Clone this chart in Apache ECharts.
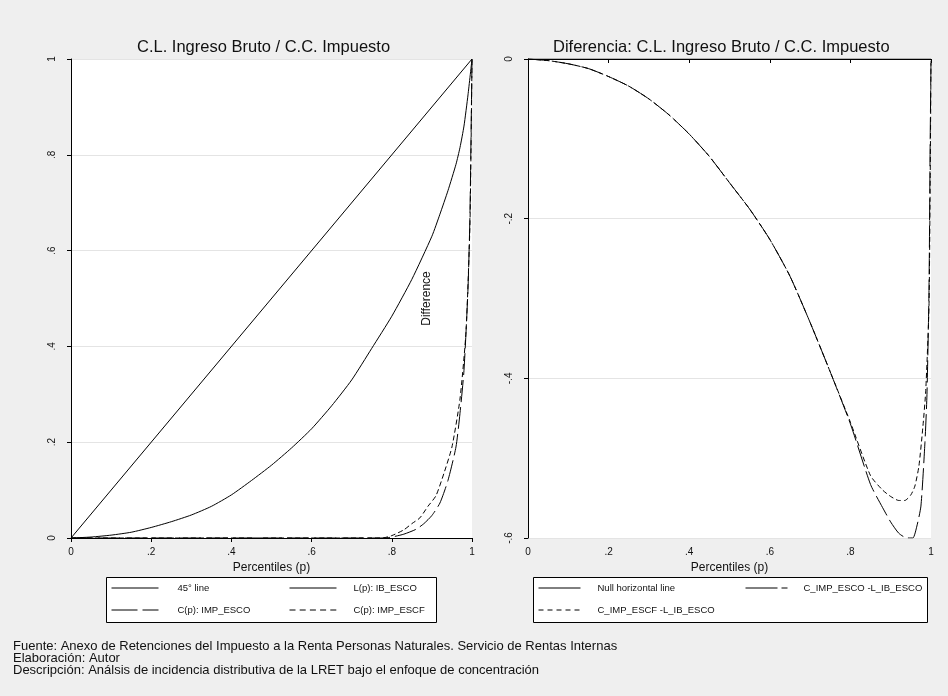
<!DOCTYPE html>
<html>
<head>
<meta charset="utf-8">
<script src="https://cdn.jsdelivr.net/npm/echarts@6/dist/echarts.min.js"></script>
<style>
html,body{margin:0;padding:0;background:#efefef;}
#chart{width:948px;height:696px;}
</style>
</head>
<body>
<div id="chart"></div>
<script>
// ---------- DATA ----------
var titleLeft = 'C.L. Ingreso Bruto / C.C. Impuesto';
var titleRight = 'Diferencia: C.L. Ingreso Bruto / C.C. Impuesto';
var xAxisName = 'Percentiles (p)';
var xTicks = [0, 0.2, 0.4, 0.6, 0.8, 1];
var yTicksLeft = [0, 0.2, 0.4, 0.6, 0.8, 1];
var yTicksRight = [-0.6, -0.4, -0.2, 0];

var line45P = [0, 1];
var line45V = [0, 1];

var lorenzP = [0, 0.05, 0.1, 0.15, 0.2, 0.25, 0.3, 0.35, 0.4, 0.45, 0.5, 0.55, 0.6, 0.65, 0.7, 0.75, 0.8, 0.85, 0.9, 0.92, 0.94, 0.96, 0.97, 0.98, 0.99, 1];
var lorenzIB = [0, 0.002, 0.006, 0.012, 0.022, 0.034, 0.048, 0.066, 0.09, 0.12, 0.152, 0.188, 0.228, 0.276, 0.330, 0.396, 0.463, 0.540, 0.630, 0.676, 0.725, 0.780, 0.815, 0.860, 0.925, 1];

var concEscoP = [0, 0.78, 0.8, 0.83, 0.86, 0.88, 0.9, 0.92, 0.94, 0.96, 0.97, 0.98, 0.99, 0.995, 1];
var concEsco  = [0, 0, 0.002, 0.008, 0.018, 0.03, 0.047, 0.073, 0.12, 0.19, 0.26, 0.35, 0.52, 0.68, 1];

var concEscfP = [0, 0.776, 0.8, 0.83, 0.85, 0.87, 0.89, 0.91, 0.93, 0.95, 0.97, 0.985, 0.995, 1];
var concEscf  = [0, 0, 0.005, 0.017, 0.03, 0.042, 0.066, 0.088, 0.135, 0.19, 0.29, 0.43, 0.66, 1];

var nullP = [0, 1];
var nullV = [0, 0];

var diffEscoP = [0, 0.05, 0.1, 0.15, 0.2, 0.25, 0.3, 0.35, 0.4, 0.45, 0.5, 0.55, 0.6, 0.65, 0.7, 0.75, 0.8, 0.85, 0.88, 0.9, 0.92, 0.94, 0.955, 0.965, 0.975, 0.985, 0.99, 0.995, 0.998, 1];
var diffEsco  = [0, -0.002, -0.006, -0.012, -0.022, -0.034, -0.05, -0.07, -0.094, -0.122, -0.155, -0.188, -0.226, -0.272, -0.33, -0.392, -0.457, -0.533, -0.562, -0.58, -0.594, -0.6, -0.6, -0.585, -0.56, -0.48, -0.42, -0.29, -0.1, 0];

var diffEscfP = [0, 0.05, 0.1, 0.15, 0.2, 0.25, 0.3, 0.35, 0.4, 0.45, 0.5, 0.55, 0.6, 0.65, 0.7, 0.75, 0.8, 0.85, 0.88, 0.9, 0.92, 0.935, 0.95, 0.96, 0.97, 0.98, 0.987, 0.995, 0.998, 1];
var diffEscf  = [0, -0.002, -0.006, -0.012, -0.022, -0.034, -0.05, -0.07, -0.094, -0.122, -0.155, -0.188, -0.226, -0.272, -0.33, -0.392, -0.455, -0.522, -0.54, -0.548, -0.553, -0.553, -0.546, -0.535, -0.51, -0.46, -0.415, -0.31, -0.15, 0];

var footerLines = [
  'Fuente: Anexo de Retenciones del Impuesto a la Renta Personas Naturales. Servicio de Rentas Internas',
  'Elaboración: Autor',
  'Descripción: Análsis de incidencia distributiva de la LRET bajo el enfoque de concentración'
];
var annotation = 'Difference';

// ---------- BUILD ----------
function zip(a, b) { return a.map(function (v, i) { return [v, b[i]]; }); }
function fmt(v) {
  var r = Math.round(v * 10) / 10;
  if (r === 0) return '0';
  if (r === 1) return '1';
  return String(r).replace('0.', '.');
}
var FONT = 'Liberation Sans, Arial, sans-serif';
var BLACK = '#000';

function xAx(gi) {
  return {
    type: 'value', gridIndex: gi, min: 0, max: 1, interval: 0.2,
    name: xAxisName, nameLocation: 'middle', nameGap: 18,
    nameTextStyle: { fontFamily: FONT, fontSize: 12, color: '#111' },
    axisLine: { show: true, lineStyle: { color: BLACK, width: 1 } },
    axisTick: { show: true, inside: false, length: 4, lineStyle: { color: BLACK } },
    axisLabel: { formatter: fmt, fontFamily: FONT, fontSize: 10, color: '#111', margin: 9 },
    splitLine: { show: false }
  };
}
function yAx(gi, mn, mx) {
  return {
    type: 'value', gridIndex: gi, min: mn, max: mx, interval: 0.2,
    axisLine: { show: true, lineStyle: { color: BLACK, width: 1 } },
    axisTick: { show: true, inside: false, length: 4, lineStyle: { color: BLACK } },
    axisLabel: { formatter: fmt, fontFamily: FONT, fontSize: 10, color: '#111', rotate: 90, margin: 14 },
    splitLine: { show: true, lineStyle: { color: '#e4e4e4', width: 1 } }
  };
}
function lineSeries(name, data, xi, dash, extra) {
  var s = {
    name: name, type: 'line', xAxisIndex: xi, yAxisIndex: xi,
    data: data, symbol: 'none', showSymbol: false, smooth: 0.2,
    lineStyle: { color: BLACK, width: 1, type: dash },
    itemStyle: { color: BLACK },
    emphasis: { disabled: true }, silent: true
  };
  if (extra) for (var k in extra) s[k] = extra[k];
  return s;
}
function leg(name, left, top, w, dash, pad) {
  return {
    data: [name], left: left, top: top, itemWidth: w, itemHeight: 10,
    padding: 0, selectedMode: false,
    itemStyle: { opacity: 0 },
    textStyle: { fontFamily: FONT, fontSize: 9.5, color: '#111', padding: [0, 0, 0, pad] },
    lineStyle: { type: dash, width: 1, color: BLACK, opacity: 1 }
  };
}

var dashEsco = [22, 5];
var dashEscf = [5, 3];

var option = {
  animation: false,
  backgroundColor: '#efefef',
  title: [
    { text: titleLeft, left: 137, top: 39, padding: 0, textStyle: { fontFamily: FONT, fontSize: 16.5, fontWeight: 'normal', color: '#111' } },
    { text: titleRight, left: 553, top: 39, padding: 0, textStyle: { fontFamily: FONT, fontSize: 16.5, fontWeight: 'normal', color: '#111' } }
  ],
  grid: [
    { left: 71, top: 59, width: 401, height: 479, show: true, backgroundColor: '#fff', borderWidth: 0 },
    { left: 528, top: 59, width: 403, height: 479, show: true, backgroundColor: '#fff', borderWidth: 0 }
  ],
  xAxis: [xAx(0), xAx(1)],
  yAxis: [yAx(0, 0, 1), yAx(1, -0.6, 0)],
  legend: [
    leg('45° line', 111, 583, 47, 'solid', 14),
    leg('L(p): IB_ESCO', 289, 583, 47, 'solid', 12),
    leg('C(p): IMP_ESCO', 111, 605, 47, [26, 5], 14),
    leg('C(p): IMP_ESCF', 289, 605, 47, [6, 4.2], 12),
    leg('Null horizontal line', 538, 583, 42, 'solid', 12),
    leg('C_IMP_ESCO -L_IB_ESCO', 745, 583, 42, [32, 4], 11),
    leg('C_IMP_ESCF -L_IB_ESCO', 538, 605, 42, [5, 4], 12)
  ],
  graphic: [
    { type: 'rect', shape: { x: 106.5, y: 577.5, width: 330, height: 45 }, style: { fill: '#fff', stroke: BLACK, lineWidth: 1 }, z: 1, silent: true },
    { type: 'rect', shape: { x: 533.5, y: 577.5, width: 394, height: 45 }, style: { fill: '#fff', stroke: BLACK, lineWidth: 1 }, z: 1, silent: true },
    { type: 'text', left: 13, top: 640, style: { text: footerLines.join('\n'), font: '13px ' + FONT, fill: '#111', lineHeight: 11.8 }, silent: true }
  ],
  series: [
    lineSeries('45° line', zip(line45P, line45V), 0, 'solid', { smooth: false }),
    lineSeries('L(p): IB_ESCO', zip(lorenzP, lorenzIB), 0, 'solid', {
      markPoint: {
        silent: true, symbol: 'circle', symbolSize: 0,
        label: { show: true, formatter: annotation, rotate: 90, position: 'inside', fontFamily: FONT, fontSize: 12, color: '#111' },
        data: [{ coord: [0.887, 0.5] }]
      }
    }),
    lineSeries('C(p): IMP_ESCO', zip(concEscoP, concEsco), 0, dashEsco),
    lineSeries('C(p): IMP_ESCF', zip(concEscfP, concEscf), 0, dashEscf),
    lineSeries('Null horizontal line', zip(nullP, nullV), 1, 'solid', { smooth: false }),
    lineSeries('C_IMP_ESCO -L_IB_ESCO', zip(diffEscoP, diffEsco), 1, dashEsco),
    lineSeries('C_IMP_ESCF -L_IB_ESCO', zip(diffEscfP, diffEscf), 1, dashEscf)
  ]
};
var chart = echarts.init(document.getElementById('chart'), null, { renderer: 'canvas' });
chart.setOption(option);
</script>
</body>
</html>
